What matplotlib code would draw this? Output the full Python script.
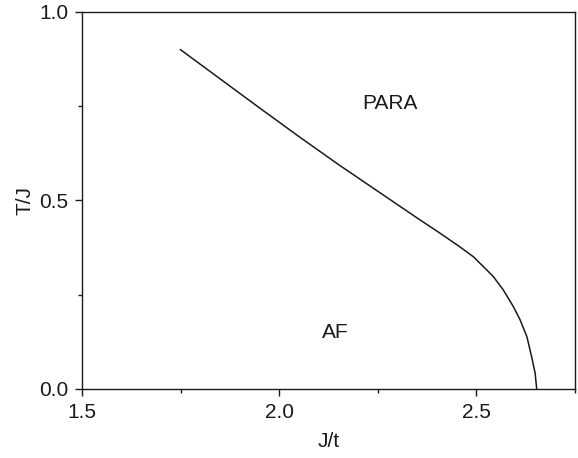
import matplotlib
matplotlib.use('agg')
import matplotlib.pyplot as plt
from matplotlib.ticker import MultipleLocator, FormatStrFormatter

plt.rcParams['font.family'] = ['Liberation Sans', 'DejaVu Sans']
plt.rcParams['font.size'] = 15

# phase boundary T_N(J/t)
jt = [1.75, 1.85, 1.95, 2.05, 2.15, 2.25, 2.35, 2.409, 2.459, 2.493,
      2.527, 2.544, 2.569, 2.595, 2.612, 2.629, 2.641, 2.650, 2.654]
tj = [0.900, 0.823, 0.746, 0.670, 0.596, 0.525, 0.454, 0.413, 0.377,
      0.351, 0.316, 0.298, 0.263, 0.218, 0.183, 0.139, 0.086, 0.042, 0.0]

regions = ['PARA', 'AF']
region_x = [2.282, 2.143]
region_y = [0.756, 0.151]

ink = '#1a1a1a'

fig = plt.figure(figsize=(5.78, 4.58), dpi=100)
ax = fig.add_axes([0.1419, 0.1507, 0.8521, 0.8231])

ax.plot(jt, tj, color=ink, linewidth=1.1)
for name, x, y in zip(regions, region_x, region_y):
    ax.text(x, y, name, ha='center', va='center', color=ink, fontsize=15)

ax.set_xlim(1.5, 2.75)
ax.set_ylim(0.0, 1.0)
ax.xaxis.set_major_locator(MultipleLocator(0.5))
ax.xaxis.set_minor_locator(MultipleLocator(0.25))
ax.xaxis.set_major_formatter(FormatStrFormatter('%.1f'))
ax.yaxis.set_major_locator(MultipleLocator(0.5))
ax.yaxis.set_minor_locator(MultipleLocator(0.25))
ax.yaxis.set_major_formatter(FormatStrFormatter('%.1f'))

ax.tick_params(which='major', direction='out', length=5, width=1, colors=ink, pad=5)
ax.tick_params(which='minor', direction='out', length=3, width=1, colors=ink)
for s in ax.spines.values():
    s.set_linewidth(1.0)
    s.set_color(ink)

ax.set_xlabel('J/t', color=ink, labelpad=7)
ax.set_ylabel('T/J', color=ink, labelpad=3)

fig.savefig('out.png', dpi=100)
